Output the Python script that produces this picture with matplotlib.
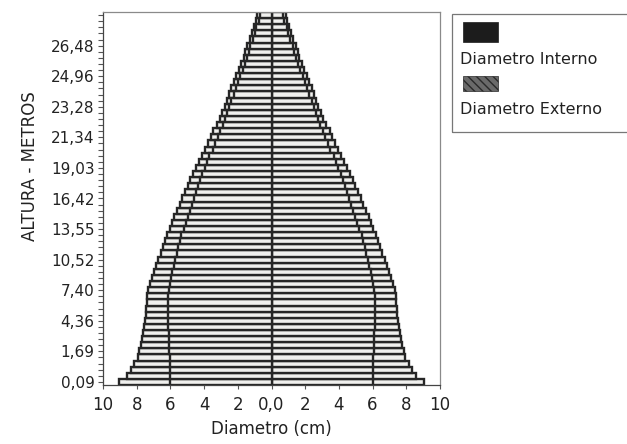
import matplotlib
matplotlib.use("Agg")
import matplotlib.pyplot as plt
from matplotlib.patches import Rectangle
import numpy as np

# ---- data ----
height_labels = ["0,09", "1,69", "4,36", "7,40", "10,52", "13,55",
                 "16,42", "19,03", "21,34", "23,28", "24,96", "26,48"]

diam_externo = [9.05, 8.60, 8.35, 8.15, 7.95, 7.85, 7.75, 7.68, 7.62, 7.55,
                7.50, 7.45, 7.42, 7.40, 7.36, 7.30, 7.20, 7.10, 6.98, 6.88,
                6.72, 6.58, 6.45, 6.30, 6.18, 6.05, 5.92, 5.78, 5.62, 5.45,
                5.30, 5.15, 4.98, 4.82, 4.65, 4.50, 4.32, 4.12, 3.95, 3.78,
                3.62, 3.45, 3.25, 3.08, 2.92, 2.78, 2.65, 2.50, 2.38, 2.25,
                2.08, 1.92, 1.80, 1.65, 1.55, 1.45, 1.30, 1.18, 1.05, 0.92,
                0.85]

diam_interno = [6.00, 6.02, 6.03, 6.05, 6.05, 6.07, 6.08, 6.10, 6.10, 6.12,
                6.13, 6.15, 6.15, 6.15, 6.12, 6.08, 6.02, 5.95, 5.90, 5.80,
                5.70, 5.60, 5.52, 5.45, 5.35, 5.22, 5.10, 4.98, 4.85, 4.72,
                4.58, 4.47, 4.36, 4.22, 4.10, 3.97, 3.82, 3.68, 3.50, 3.35,
                3.15, 3.05, 2.90, 2.78, 2.65, 2.52, 2.40, 2.25, 2.10, 1.98,
                1.85, 1.68, 1.58, 1.45, 1.35, 1.25, 1.12, 1.00, 0.90, 0.76,
                0.68]

x_ticks = [-10, -8, -6, -4, -2, 0, 2, 4, 6, 8, 10]
x_tick_labels = ["10", "8", "6", "4", "2", "0,0", "2", "4", "6", "8", "10"]

# ---- figure ----
W, H = 627, 444
fig = plt.figure(figsize=(W / 100, H / 100), dpi=100)
plt.rcParams['font.family'] = ['DejaVu Sans']

def fx(px):
    return px / W

def fy(py):
    return 1 - py / H

ax = fig.add_axes([fx(103), fy(385), fx(440) - fx(103), fy(12) - fy(385)])

n = len(diam_externo)
pos = np.arange(n)
ext = np.array(diam_externo)
inn = np.array(diam_interno)

bar_kw = dict(height=1.0, facecolor="#f0f0ee", edgecolor="#262626", linewidth=1.7)
ax.barh(pos, ext, left=0, **bar_kw)
ax.barh(pos, -ext, left=0, **bar_kw)
ax.barh(pos, inn, left=0, **bar_kw)
ax.barh(pos, -inn, left=0, **bar_kw)

ax.set_xlim(-10, 10)
ax.set_ylim(-0.5, n - 0.5)

ax.set_xticks(x_ticks)
ax.set_xticklabels(x_tick_labels, fontsize=12, color="#222222")
major_pos = list(range(0, 5 * len(height_labels), 5))
ax.set_yticks(major_pos)
ax.set_yticklabels(height_labels, fontsize=11, color="#222222")
ax.set_yticks(pos, minor=True)
ax.tick_params(axis="y", which="both", direction="out", length=3.5, width=0.8,
               color="#555555", pad=2.5)
ax.tick_params(axis="x", which="major", direction="out", length=3, width=0.8,
               color="#555555", pad=5)

for side in ["left", "bottom"]:
    ax.spines[side].set_color("#444444")
    ax.spines[side].set_linewidth(0.9)
for side in ["top", "right"]:
    ax.spines[side].set_color("#8a8a8a")
    ax.spines[side].set_linewidth(0.9)

ax.set_xlabel("Diametro (cm)", fontsize=12, color="#222222", labelpad=4)
ax.set_ylabel("ALTURA - METROS", fontsize=12, color="#222222")
ax.yaxis.set_label_coords((39 - 103) / 337, (385 - 166) / 373)

# ---- legend (handles above labels, as in the reference) ----
box = Rectangle((fx(452), fy(132)), fx(660) - fx(452), fy(14) - fy(132),
                transform=fig.transFigure, facecolor="none",
                edgecolor="#777777", linewidth=0.9, clip_on=False)
fig.add_artist(box)
p1 = Rectangle((fx(463), fy(42)), fx(35), fy(0) - fy(20),
               transform=fig.transFigure, facecolor="#1c1c1c",
               edgecolor="#1c1c1c", linewidth=0.5)
fig.add_artist(p1)
p2 = Rectangle((fx(463), fy(91)), fx(35), fy(0) - fy(15),
               transform=fig.transFigure, facecolor="#6a6a6a",
               edgecolor="#2a2a2a", linewidth=0.5, hatch="\\\\\\\\")
fig.add_artist(p2)
fig.text(fx(460), fy(60), "Diametro Interno", fontsize=11.5, color="#222222",
         ha="left", va="center")
fig.text(fx(460), fy(110), "Diametro Externo", fontsize=11.5, color="#222222",
         ha="left", va="center")

fig.savefig("out.png", dpi=100)
